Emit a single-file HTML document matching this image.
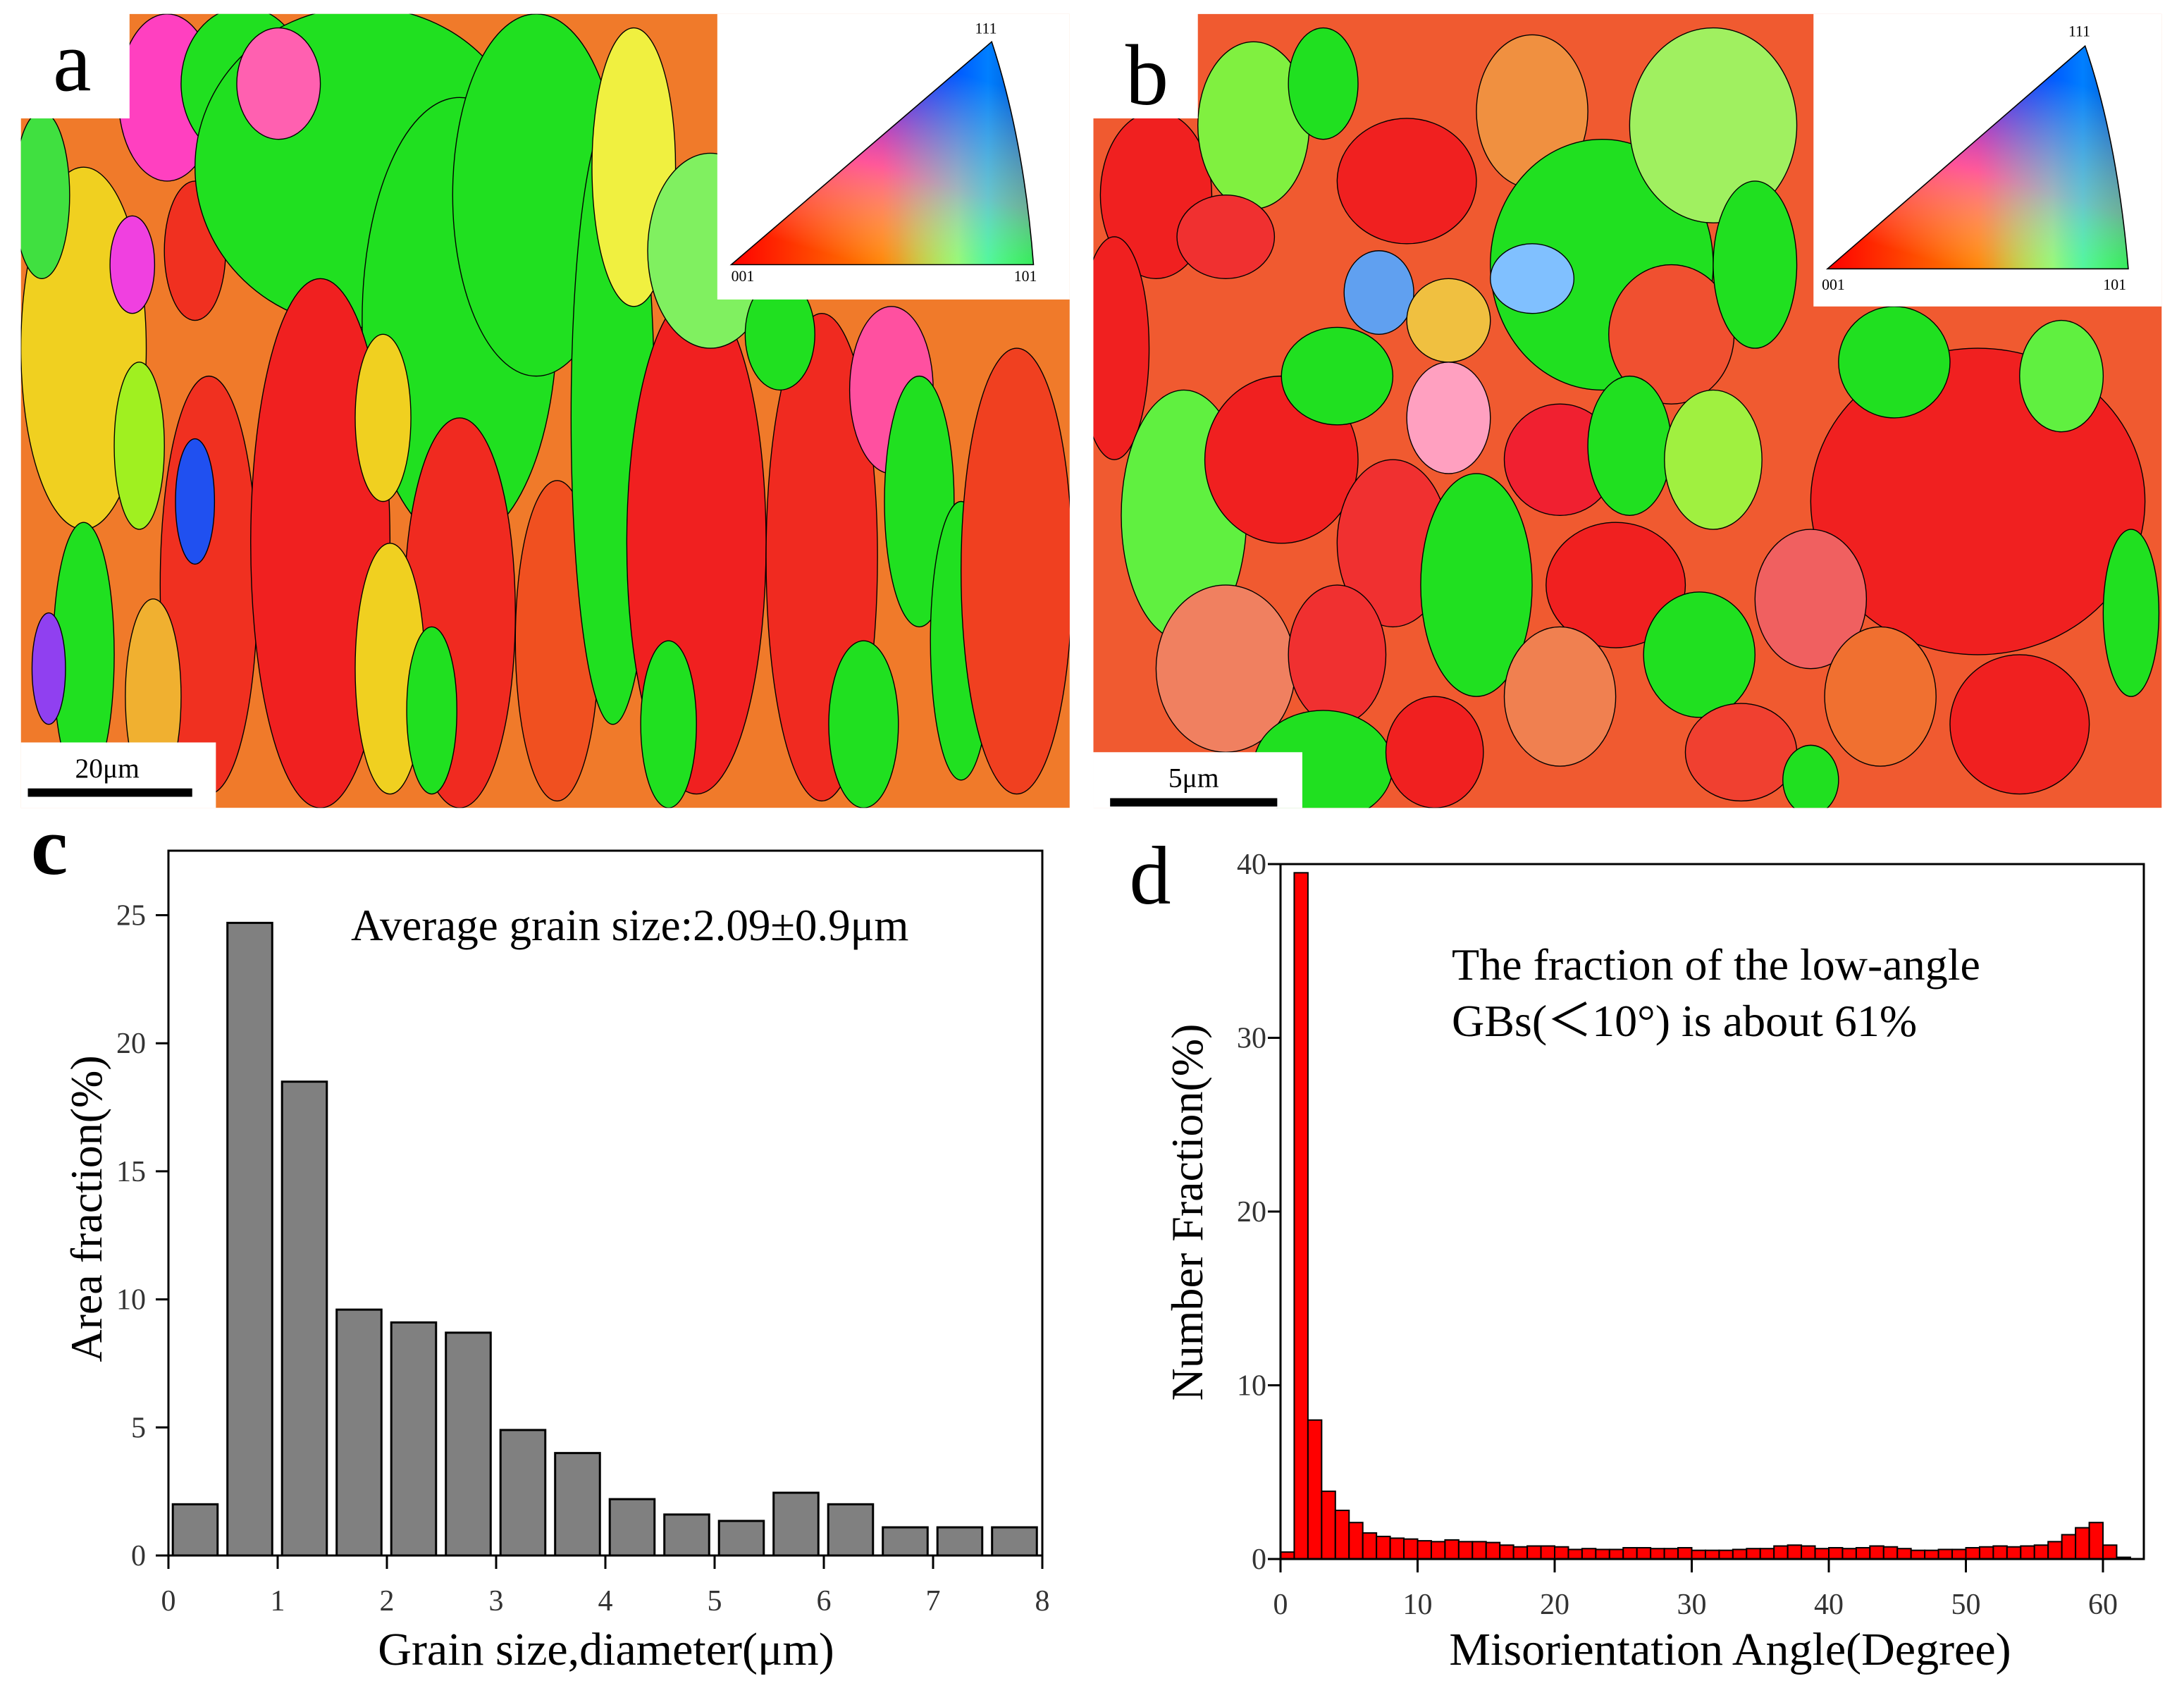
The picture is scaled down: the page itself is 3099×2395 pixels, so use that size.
<!DOCTYPE html>
<html><head><meta charset="utf-8"><style>
html,body{margin:0;padding:0;background:#fff}
svg{display:block}
text{font-family:"Liberation Serif",serif}
</style></head><body>
<svg id="fig" xmlns="http://www.w3.org/2000/svg" width="3099" height="2395" viewBox="0 0 3099 2395">
<defs>
<linearGradient id="ipfH" x1="0" y1="0" x2="1" y2="0">
<stop offset="0" stop-color="#ff0000"/><stop offset="0.55" stop-color="#ff9000"/><stop offset="0.75" stop-color="#e8ff00"/><stop offset="1" stop-color="#00ff00"/></linearGradient>
<linearGradient id="ipfV" x1="0" y1="1" x2="0.4" y2="0">
<stop offset="0.15" stop-color="#ffffff" stop-opacity="0"/><stop offset="0.55" stop-color="#ff40ff" stop-opacity="0.6"/><stop offset="1" stop-color="#0000ff" stop-opacity="1"/></linearGradient>
<linearGradient id="ipfC" x1="0" y1="0" x2="1" y2="0">
<stop offset="0.5" stop-color="#00ffff" stop-opacity="0"/><stop offset="0.85" stop-color="#00ffff" stop-opacity="0.5"/><stop offset="1" stop-color="#00ff80" stop-opacity="0.3"/></linearGradient>
<clipPath id="clipA"><rect x="15" y="10" width="753" height="570"/></clipPath>
<clipPath id="clipB"><rect x="785" y="10" width="767" height="570"/></clipPath>
</defs>

<!-- ============ Panel a ============ -->
<g transform="scale(1.9764)">
<g clip-path="url(#clipA)">
<rect x="15" y="10" width="753" height="570" fill="#f07a2a"/>
<g stroke="#000" stroke-width="0.7">
<ellipse cx="60" cy="250" rx="45" ry="130" fill="#f0d020"/>
<ellipse cx="30" cy="140" rx="20" ry="60" fill="#40e040"/>
<ellipse cx="120" cy="70" rx="35" ry="60" fill="#ff40c0"/>
<ellipse cx="95" cy="190" rx="16" ry="35" fill="#f040e0"/>
<ellipse cx="140" cy="180" rx="22" ry="50" fill="#f03020"/>
<ellipse cx="100" cy="320" rx="18" ry="60" fill="#a0f020"/>
<ellipse cx="150" cy="420" rx="35" ry="150" fill="#f03020"/>
<ellipse cx="140" cy="360" rx="14" ry="45" fill="#2050f0"/>
<ellipse cx="60" cy="470" rx="22" ry="95" fill="#20e020"/>
<ellipse cx="35" cy="480" rx="12" ry="40" fill="#9040f0"/>
<ellipse cx="110" cy="500" rx="20" ry="70" fill="#f0b030"/>
<ellipse cx="175" cy="60" rx="45" ry="55" fill="#20e020"/>
<ellipse cx="260" cy="120" rx="120" ry="115" fill="#20e020"/>
<ellipse cx="330" cy="230" rx="70" ry="160" fill="#20e020"/>
<ellipse cx="385" cy="140" rx="60" ry="130" fill="#20e020"/>
<ellipse cx="200" cy="60" rx="30" ry="40" fill="#ff60b0"/>
<ellipse cx="230" cy="390" rx="50" ry="190" fill="#f02020"/>
<ellipse cx="275" cy="300" rx="20" ry="60" fill="#f0d020"/>
<ellipse cx="330" cy="440" rx="40" ry="140" fill="#f02a20"/>
<ellipse cx="280" cy="480" rx="25" ry="90" fill="#f0d020"/>
<ellipse cx="310" cy="510" rx="18" ry="60" fill="#20e020"/>
<ellipse cx="400" cy="460" rx="30" ry="115" fill="#f05020"/>
<ellipse cx="440" cy="300" rx="30" ry="220" fill="#20e020"/>
<ellipse cx="455" cy="120" rx="30" ry="100" fill="#f0f040"/>
<ellipse cx="500" cy="390" rx="50" ry="180" fill="#f02020"/>
<ellipse cx="510" cy="180" rx="45" ry="70" fill="#80f060"/>
<ellipse cx="480" cy="520" rx="20" ry="60" fill="#20e020"/>
<ellipse cx="590" cy="400" rx="40" ry="175" fill="#f02a20"/>
<ellipse cx="640" cy="280" rx="30" ry="60" fill="#ff50a0"/>
<ellipse cx="660" cy="360" rx="25" ry="90" fill="#20e020"/>
<ellipse cx="690" cy="460" rx="22" ry="100" fill="#20e020"/>
<ellipse cx="730" cy="410" rx="40" ry="160" fill="#f04020"/>
<ellipse cx="620" cy="520" rx="25" ry="60" fill="#20e020"/>
<ellipse cx="560" cy="240" rx="25" ry="40" fill="#20e020"/>
</g>
</g>
<rect x="0" y="0" width="93" height="85" fill="#fff"/>
<text x="38" y="65" font-size="62">a</text>
<rect x="515" y="10" width="253" height="205" fill="#fff"/>
<path d="M525,190 L712,30 Q735,100 742,190 Z" fill="url(#ipfH)"/>
<path d="M525,190 L712,30 Q735,100 742,190 Z" fill="url(#ipfV)"/>
<path d="M525,190 L712,30 Q735,100 742,190 Z" fill="url(#ipfC)" stroke="#000" stroke-width="0.8"/>
<text x="525" y="202" font-size="11">001</text>
<text x="728" y="202" font-size="11">101</text>
<text x="700" y="24" font-size="11">111</text>
<rect x="15" y="533" width="140" height="47" fill="#fff"/>
<text x="77" y="558" font-size="20" text-anchor="middle">20μm</text>
<rect x="20" y="566" width="118" height="6" fill="#000"/>
</g>

<!-- ============ Panel b ============ -->
<g transform="scale(1.9764)">
<g clip-path="url(#clipB)">
<rect x="785" y="10" width="767" height="570" fill="#f05a30"/>
<g stroke="#000" stroke-width="0.7">
<ellipse cx="830" cy="140" rx="40" ry="60" fill="#f02020"/>
<ellipse cx="900" cy="90" rx="40" ry="60" fill="#80f040"/>
<ellipse cx="880" cy="170" rx="35" ry="30" fill="#f03030"/>
<ellipse cx="950" cy="60" rx="25" ry="40" fill="#20e020"/>
<ellipse cx="1010" cy="130" rx="50" ry="45" fill="#f02020"/>
<ellipse cx="1100" cy="80" rx="40" ry="55" fill="#f09040"/>
<ellipse cx="1150" cy="190" rx="80" ry="90" fill="#20e020"/>
<ellipse cx="1230" cy="90" rx="60" ry="70" fill="#a0f060"/>
<ellipse cx="1100" cy="200" rx="30" ry="25" fill="#80c0ff"/>
<ellipse cx="990" cy="210" rx="25" ry="30" fill="#60a0f0"/>
<ellipse cx="1040" cy="230" rx="30" ry="30" fill="#f0c040"/>
<ellipse cx="1200" cy="240" rx="45" ry="50" fill="#f05030"/>
<ellipse cx="1260" cy="190" rx="30" ry="60" fill="#20e020"/>
<ellipse cx="800" cy="250" rx="25" ry="80" fill="#f02020"/>
<ellipse cx="850" cy="370" rx="45" ry="90" fill="#60f040"/>
<ellipse cx="920" cy="330" rx="55" ry="60" fill="#f02020"/>
<ellipse cx="960" cy="270" rx="40" ry="35" fill="#20e020"/>
<ellipse cx="1040" cy="300" rx="30" ry="40" fill="#ffa0c0"/>
<ellipse cx="1000" cy="390" rx="40" ry="60" fill="#f03030"/>
<ellipse cx="1060" cy="420" rx="40" ry="80" fill="#20e020"/>
<ellipse cx="1120" cy="330" rx="40" ry="40" fill="#f02030"/>
<ellipse cx="1170" cy="320" rx="30" ry="50" fill="#20e020"/>
<ellipse cx="1160" cy="420" rx="50" ry="45" fill="#f02020"/>
<ellipse cx="1230" cy="330" rx="35" ry="50" fill="#a0f040"/>
<ellipse cx="1120" cy="500" rx="40" ry="50" fill="#f08050"/>
<ellipse cx="880" cy="480" rx="50" ry="60" fill="#f08060"/>
<ellipse cx="960" cy="470" rx="35" ry="50" fill="#f03030"/>
<ellipse cx="950" cy="550" rx="50" ry="40" fill="#20e020"/>
<ellipse cx="1030" cy="540" rx="35" ry="40" fill="#f02020"/>
<ellipse cx="1220" cy="470" rx="40" ry="45" fill="#20e020"/>
<ellipse cx="1250" cy="540" rx="40" ry="35" fill="#f04030"/>
<ellipse cx="1420" cy="360" rx="120" ry="110" fill="#f02020"/>
<ellipse cx="1360" cy="260" rx="40" ry="40" fill="#20e020"/>
<ellipse cx="1480" cy="270" rx="30" ry="40" fill="#60f040"/>
<ellipse cx="1300" cy="430" rx="40" ry="50" fill="#f06060"/>
<ellipse cx="1350" cy="500" rx="40" ry="50" fill="#f07030"/>
<ellipse cx="1450" cy="520" rx="50" ry="50" fill="#f02020"/>
<ellipse cx="1530" cy="440" rx="20" ry="60" fill="#20e020"/>
<ellipse cx="1300" cy="560" rx="20" ry="25" fill="#20e020"/>
</g>
</g>
<rect x="770" y="0" width="90" height="85" fill="#fff"/>
<text x="808" y="75" font-size="62">b</text>
<rect x="1302" y="10" width="250" height="210" fill="#fff"/>
<path d="M1312,193 L1497,33 Q1520,100 1528,193 Z" fill="url(#ipfH)"/>
<path d="M1312,193 L1497,33 Q1520,100 1528,193 Z" fill="url(#ipfV)"/>
<path d="M1312,193 L1497,33 Q1520,100 1528,193 Z" fill="url(#ipfC)" stroke="#000" stroke-width="0.8"/>
<text x="1308" y="208" font-size="11">001</text>
<text x="1510" y="208" font-size="11">101</text>
<text x="1485" y="26" font-size="11">111</text>
<rect x="785" y="540" width="150" height="40" fill="#fff"/>
<text x="857" y="565" font-size="20" text-anchor="middle">5μm</text>
<rect x="797" y="573" width="120" height="6" fill="#000"/>
</g>

<!-- ============ Chart c ============ -->
<g id="chartC"></g>
<text x="70" y="1240" font-size="118" font-weight="bold" text-anchor="middle">c</text>
<text x="498" y="1334" font-size="63">Average grain size:2.09±0.9μm</text>
<text x="860" y="2362" font-size="66" text-anchor="middle">Grain size,diameter(μm)</text>
<text transform="translate(144,1715) rotate(-90)" font-size="64" text-anchor="middle">Area fraction(%)</text>

<!-- ============ Chart d ============ -->
<g id="chartD"></g>
<text x="1632" y="1282" font-size="118" text-anchor="middle">d</text>
<text x="2060" y="1390" font-size="64">The fraction of the low-angle</text>
<text x="2060" y="1470" font-size="64">GBs(＜10°) is about 61%</text>
<text x="2455" y="2362" font-size="66" text-anchor="middle">Misorientation Angle(Degree)</text>
<text transform="translate(1706,1720) rotate(-90)" font-size="64" text-anchor="middle">Number Fraction(%)</text>
</svg>
<script>
// ---- chart c data ----
const cBinStarts = [0,0.5,1,1.5,2,2.5,3,3.5,4,4.5,5,5.5,6,6.5,7,7.5];
const cValues = [2.0,24.7,18.5,9.6,9.1,8.7,4.9,4.0,2.2,1.6,1.35,2.45,2.0,1.1,1.1,1.1];
const cXTicks = [0,1,2,3,4,5,6,7,8];
const cYTicks = [0,5,10,15,20,25];
// ---- chart d data ----
const dBinStarts = [0,1,2,3,4,5,6,7,8,9,10,11,12,13,14,15,16,17,18,19,20,21,22,23,24,25,26,27,28,29,30,31,32,33,34,35,36,37,38,39,40,41,42,43,44,45,46,47,48,49,50,51,52,53,54,55,56,57,58,59,60,61];
const dValues = [0.4,39.5,8.0,3.9,2.8,2.1,1.5,1.3,1.2,1.15,1.05,1.0,1.1,1.0,1.0,0.95,0.8,0.7,0.75,0.75,0.7,0.55,0.6,0.55,0.55,0.65,0.65,0.6,0.6,0.65,0.5,0.5,0.5,0.55,0.6,0.6,0.75,0.8,0.75,0.6,0.65,0.6,0.65,0.75,0.7,0.6,0.5,0.5,0.55,0.55,0.65,0.7,0.75,0.7,0.75,0.8,1.0,1.4,1.8,2.1,0.8,0.1];
const dXTicks = [0,10,20,30,40,50,60];
const dYTicks = [0,10,20,30,40];

const NS = 'http://www.w3.org/2000/svg';
function mk(tag, attrs, parent){const e=document.createElementNS(NS,tag);for(const k in attrs)e.setAttribute(k,attrs[k]);parent.appendChild(e);return e;}

// chart c
(function(){
  const g=document.getElementById('chartC');
  const L=239,R=1479,T=1207,B=2207;
  const x=v=>L+v*(R-L)/8, y=v=>B-v*(B-1298.5)/25;
  cValues.forEach((v,i)=>{
    const r=mk('rect',{x:x(cBinStarts[i]+0.04),y:y(v),width:x(0.41)-x(0),height:B-y(v),fill:'#808080',stroke:'#000','stroke-width':3},g);
    
    
  });
  mk('rect',{x:L,y:T,width:R-L,height:B-T,fill:'none',stroke:'#000','stroke-width':3},g);
  cXTicks.forEach(t=>{
    mk('line',{x1:x(t),x2:x(t),y1:B,y2:B+19,stroke:'#000','stroke-width':3},g);
    const tx=mk('text',{x:x(t),y:B+78,'font-size':42,'text-anchor':'middle',fill:'#333'},g);tx.textContent=t;
    
    
  });
  cYTicks.forEach(t=>{
    mk('line',{x1:L-18,x2:L,y1:y(t),y2:y(t),stroke:'#000','stroke-width':3},g);
    const tx=mk('text',{x:L-32,y:y(t)+14,'font-size':42,'text-anchor':'end',fill:'#333'},g);tx.textContent=t;
    
    
  });
})();

// chart d
(function(){
  const g=document.getElementById('chartD');
  const L=1817,R=3042,T=1226,B=2212;
  const x=v=>L+v*19.45, y=v=>B-v*(B-T)/40;
  dValues.forEach((v,i)=>{
    const r=mk('rect',{x:x(dBinStarts[i]),y:y(v),width:x(1)-x(0),height:B-y(v),fill:'#ff0000',stroke:'#000','stroke-width':2},g);
    
    
  });
  mk('rect',{x:L,y:T,width:R-L,height:B-T,fill:'none',stroke:'#000','stroke-width':3},g);
  dXTicks.forEach(t=>{
    mk('line',{x1:x(t),x2:x(t),y1:B,y2:B+19,stroke:'#000','stroke-width':3},g);
    const tx=mk('text',{x:x(t),y:B+78,'font-size':42,'text-anchor':'middle',fill:'#333'},g);tx.textContent=t;
    
    
  });
  dYTicks.forEach(t=>{
    mk('line',{x1:L-18,x2:L,y1:y(t),y2:y(t),stroke:'#000','stroke-width':3},g);
    const tx=mk('text',{x:L-20,y:y(t)+14,'font-size':42,'text-anchor':'end',fill:'#333'},g);tx.textContent=t;
    
    
  });
})();
</script>
</body></html>
